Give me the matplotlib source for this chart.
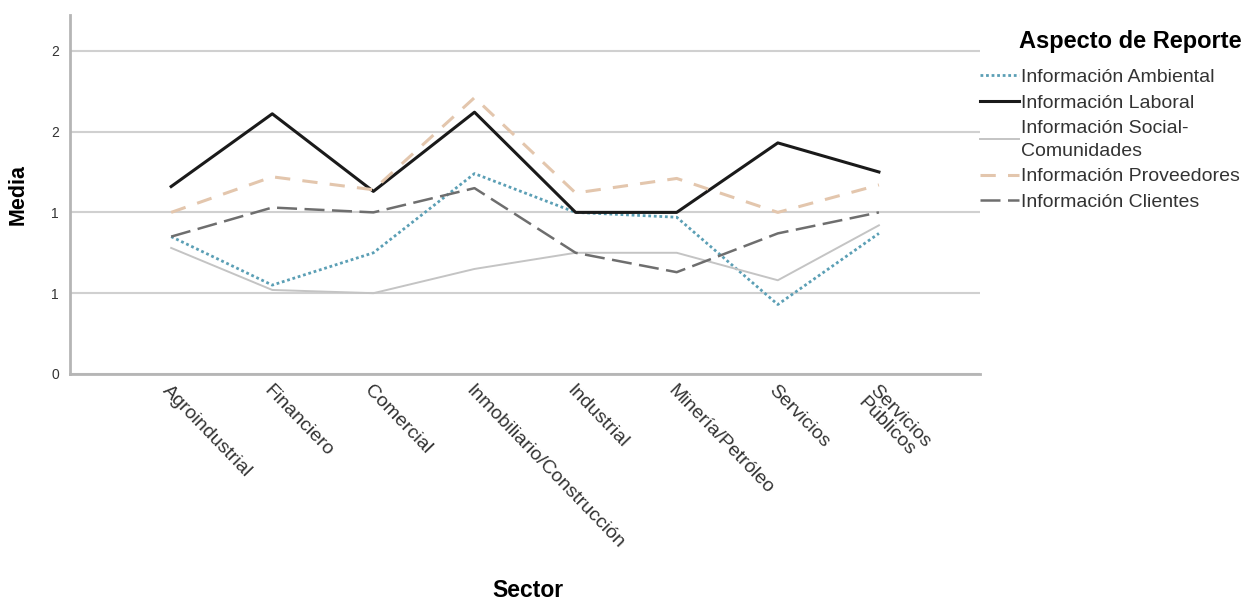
import matplotlib.pyplot as plt
import numpy as np

sectores = ['Agroindustrial', 'Financiero', 'Comercial', 'Inmobiliario/Construcción',
            'Industrial', 'Minería/Petróleo', 'Servicios', 'Servicios\nPúblicos']

ambiental   = [0.85, 0.55, 0.75, 1.24, 1.00, 0.97, 0.43, 0.87]
laboral     = [1.16, 1.61, 1.13, 1.62, 1.00, 1.00, 1.43, 1.25]
social      = [0.78, 0.52, 0.50, 0.65, 0.75, 0.75, 0.58, 0.92]
proveedores = [1.00, 1.22, 1.14, 1.71, 1.12, 1.21, 1.00, 1.17]
clientes    = [0.85, 1.03, 1.00, 1.15, 0.75, 0.63, 0.87, 1.00]

yticks = [0, 0.5, 1.0, 1.5, 2.0]
ytick_labels = ['0', '1', '1', '2', '2']

plt.rcParams['font.family'] = ['Liberation Sans', 'DejaVu Sans']

fig = plt.figure(figsize=(12.6, 6.04), dpi=100)
ax = fig.add_axes([0.0556, 0.3808, 0.7222, 0.594])

x = np.arange(len(sectores))
ax.plot(x, ambiental, color='#5b9fb5', lw=2, ls=(0, (1, 1)), label='Información Ambiental')
ax.plot(x, laboral, color='#1a1a1a', lw=2.2, label='Información Laboral')
ax.plot(x, social, color='#c4c4c4', lw=1.4, label='Información Social-\nComunidades')
ax.plot(x, proveedores, color='#e3c6ad', lw=2.2, ls=(0, (5, 4)), label='Información Proveedores')
ax.plot(x, clientes, color='#6e6e6e', lw=1.8, ls=(0, (8, 3)), label='Información Clientes')

ax.set_xlim(-1, 8)
ax.set_ylim(0, 2.22)
ax.set_yticks(yticks)
ax.set_yticklabels(ytick_labels)
ax.yaxis.grid(True, color='#d0d0d0', lw=1.5)
ax.set_axisbelow(True)

ax.set_xticks(x)
ax.set_xticklabels(sectores, rotation=-46, ha='left', va='top', rotation_mode='anchor',
                   fontsize=14, color='#333333', linespacing=0.95)
ax.tick_params(axis='x', length=0, pad=6)
ax.tick_params(axis='y', length=0, pad=8, labelsize=10, labelcolor='#333333')

for s in ['top', 'right']:
    ax.spines[s].set_visible(False)
for s in ['left', 'bottom']:
    ax.spines[s].set_color('#b5b5b5')
    ax.spines[s].set_linewidth(2)

ax.set_ylabel('Media', fontsize=15.5, fontweight='bold', labelpad=16)
fig.text(0.419, 0.012, 'Sector', fontsize=16.5, fontweight='bold', ha='center')

# legend title drawn separately so the gap under it matches
fig.text(0.897, 0.932, 'Aspecto de Reporte', fontsize=17, fontweight='bold', ha='center', va='center')
leg = fig.legend(loc='upper left', bbox_to_anchor=(0.7775, 0.887), frameon=False,
                 fontsize=14, handlelength=2.0, handletextpad=0.12, labelspacing=0.42,
                 borderaxespad=0, borderpad=0)
for t in leg.get_texts():
    t.set_color('#333333')
    t.set_linespacing(1.45)

plt.savefig('out.png', dpi=100)
